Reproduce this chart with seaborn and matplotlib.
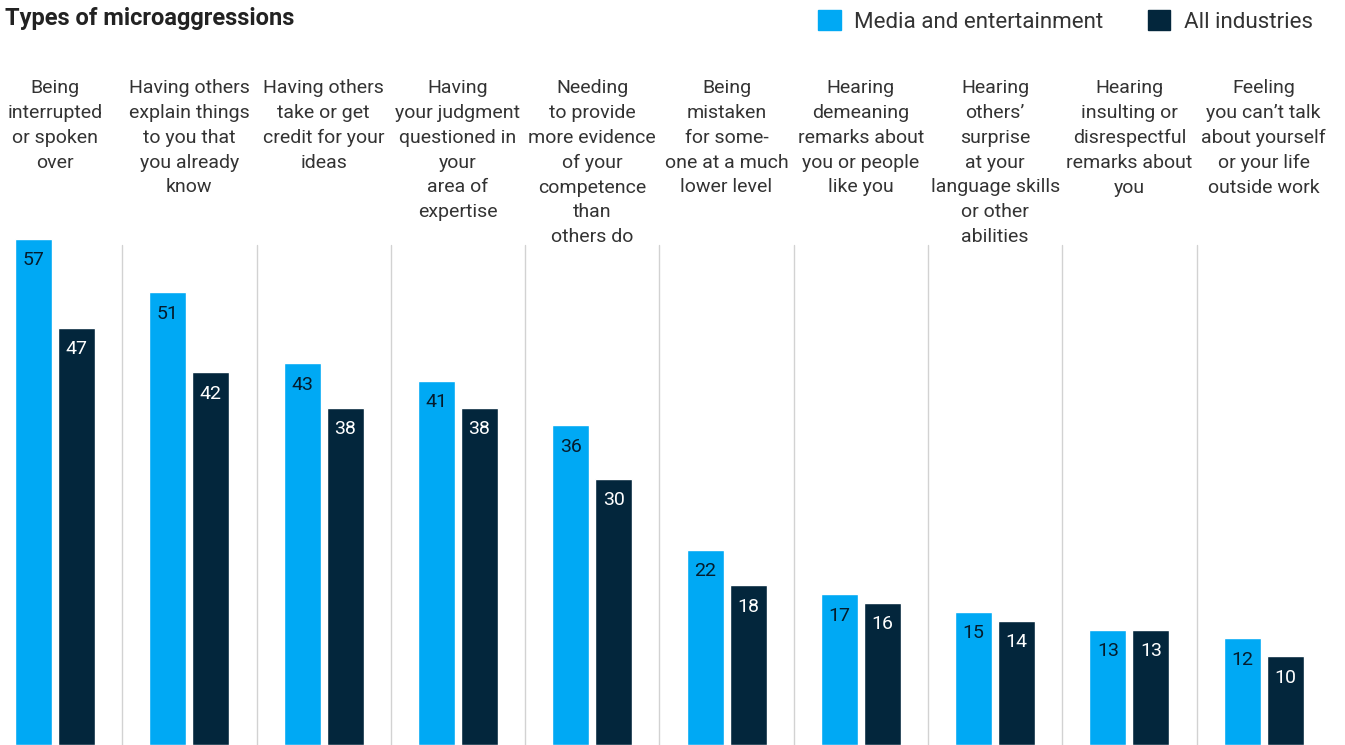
import pandas as pd
import matplotlib.pyplot as plt
import seaborn as sns
from matplotlib.patches import Patch

# chart data
categories = [
    "Being\ninterrupted\nor spoken\nover",
    "Having others\nexplain things\nto you that\nyou already\nknow",
    "Having others\ntake or get\ncredit for your\nideas",
    "Having\nyour judgment\nquestioned in\nyour\narea of\nexpertise",
    "Needing\nto provide\nmore evidence\nof your\ncompetence\nthan\nothers do",
    "Being\nmistaken\nfor some-\none at a much\nlower level",
    "Hearing\ndemeaning\nremarks about\nyou or people\nlike you",
    "Hearing\nothers’\nsurprise\nat your\nlanguage skills\nor other\nabilities",
    "Hearing\ninsulting or\ndisrespectful\nremarks about\nyou",
    "Feeling\nyou can’t talk\nabout yourself\nor your life\noutside work",
]
series = ["Media and entertainment", "All industries"]
media = [57, 51, 43, 41, 36, 22, 17, 15, 13, 12]
all_ind = [47, 42, 38, 38, 30, 18, 16, 14, 13, 10]

BLUE = "#00A9F4"
NAVY = "#03263C"
TEXT = "#333333"

df = pd.DataFrame({
    "category": categories * 2,
    "series": [series[0]] * len(media) + [series[1]] * len(all_ind),
    "value": media + all_ind,
})

sns.set_theme(style="white")
plt.rcParams["font.family"] = ["Roboto", "DejaVu Sans"]

fig = plt.figure(figsize=(13.45, 7.45), dpi=100)
ax = fig.add_axes([0, 0, 1, 1])

sns.barplot(data=df, x="category", y="value", hue="series",
            palette=[BLUE, NAVY], saturation=1, width=0.64, gap=0.14,
            legend=False, ax=ax)

ax.set_xlim(-0.41, 9.605)
ax.set_ylim(0, 83.9)
ax.set_xticks([])
ax.set_yticks([])
ax.set_xlabel("")
ax.set_ylabel("")
for s in ax.spines.values():
    s.set_visible(False)

# value labels inside top of bars
for cont, col in zip(ax.containers, ["#051C2C", "white"]):
    for bar in cont:
        h = bar.get_height()
        ax.annotate(f"{h:.0f}", (bar.get_x() + bar.get_width() / 2, h),
                    xytext=(0, -15.5), textcoords="offset points",
                    ha="center", va="center", fontsize=14, color=col)

# separators
for i in range(len(categories) - 1):
    ax.axvline(i + 0.5, ymin=0, ymax=0.671, color="#d2d2d2", lw=1.0)

# category labels above bars
for i, lab in enumerate(categories):
    ax.text(i, 1 - 79 / 745, lab, transform=ax.get_xaxis_transform(),
            ha="center", va="top", multialignment="center",
            fontsize=14, color=TEXT, linespacing=1.49)

fig.text(5 / 1345, 1 - 18 / 745, "Types of microaggressions", ha="left", va="center",
         fontsize=17, fontweight="bold", color="#222222")

handles = [Patch(color=BLUE), Patch(color=NAVY)]
fig.legend(handles, series, loc="upper right", bbox_to_anchor=(1 - 12 / 1345, 1 + 10 / 745),
           ncol=2, frameon=False, handlelength=1.0, handleheight=1.0,
           handletextpad=0.6, columnspacing=2.0, labelcolor=TEXT,
           prop={"size": 16.1})

plt.savefig("out.png", dpi=100)
